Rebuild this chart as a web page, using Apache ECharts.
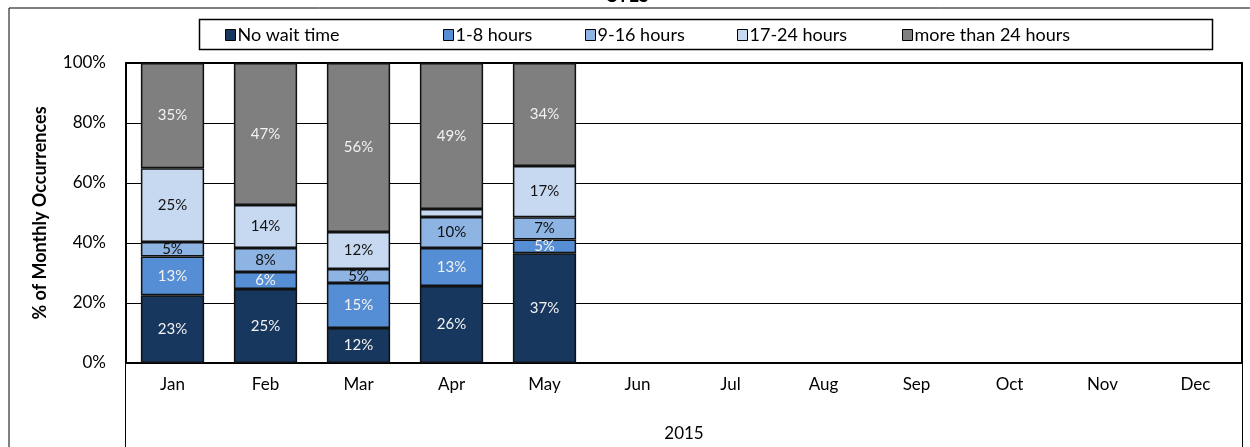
<!DOCTYPE html>
<html>
<head>
<meta charset="utf-8">
<script src="https://cdn.jsdelivr.net/npm/echarts@6/dist/echarts.min.js"></script>
<style>
  html, body { margin: 0; padding: 0; background: #fff; }
  #chart { width: 1250px; height: 447px; }
</style>
</head>
<body>
<div id="chart"></div>
<script>
// months on the category axis
const months = ['Jan', 'Feb', 'Mar', 'Apr', 'May', 'Jun', 'Jul', 'Aug', 'Sep', 'Oct', 'Nov', 'Dec'];
const yearLabel = ['2015'];
// % of monthly occurrences per wait-time bucket (Jun-Dec empty)
const noWait   = [22.6, 24.7, 11.7, 25.7, 36.6, null, null, null, null, null, null, null];
const h1to8    = [12.9, 5.6, 15.0, 12.6, 4.6, null, null, null, null, null, null, null];
const h9to16   = [4.8, 8.0, 4.6, 10.4, 7.4, null, null, null, null, null, null, null];
const h17to24  = [24.6, 14.4, 12.4, 2.6, 17.1, null, null, null, null, null, null, null];
const over24   = [35.1, 47.3, 56.3, 48.7, 34.3, null, null, null, null, null, null, null];
const yTicks = [0, 20, 40, 60, 80, 100];

const FONT = 'Lato';
const chart = echarts.init(document.getElementById('chart'));

function mkSeries(name, data, color, labelColor) {
    return {
        name: name,
        type: 'bar',
        stack: 'total',
        data: data,
        barWidth: '68%',
        itemStyle: { color: color, borderColor: '#111', borderWidth: 1.5 },
        label: {
            show: true,
            position: 'inside',
            fontFamily: FONT,
            fontSize: 15,
            color: labelColor,
            formatter: p => (p.value == null || p.value < 4) ? '' : Math.round(p.value) + '%'
        }
    };
}

// one legend per item so each sits where the reference puts it
const legendItems = [
    ['No wait time', 225],
    ['1-8 hours', 443],
    ['9-16 hours', 585],
    ['17-24 hours', 737],
    ['more than 24 hours', 902]
];

chart.setOption({
    animation: false,
    title: {
        text: 'CYES',
        left: 622,
        top: -18,
        textAlign: 'center',
        textStyle: { fontFamily: FONT, fontSize: 18, fontWeight: 'bold', color: '#000' }
    },
    legend: legendItems.map(it => ({
        data: [it[0]],
        left: it[1],
        top: 26,
        itemWidth: 10,
        itemHeight: 11,
        icon: 'rect',
        itemGap: 4,
        padding: 0,
        itemStyle: { borderColor: '#000', borderWidth: 1 },
        textStyle: { fontFamily: FONT, fontSize: 18, color: '#000', padding: [0, 0, 0, -3] }
    })),
    graphic: [
        { type: 'rect', shape: { x: 9, y: 8, width: 1260, height: 460 }, style: { fill: null, stroke: '#000', lineWidth: 1 }, silent: true, z: -1 },
        { type: 'rect', shape: { x: 199.5, y: 19.5, width: 1013, height: 30 }, style: { fill: null, stroke: '#000', lineWidth: 1.5 }, silent: true },
        { type: 'line', shape: { x1: 125.5, y1: 363, x2: 125.5, y2: 447 }, style: { stroke: '#000', lineWidth: 1 }, silent: true },
        { type: 'line', shape: { x1: 1242.5, y1: 363, x2: 1242.5, y2: 447 }, style: { stroke: '#000', lineWidth: 1 }, silent: true }
    ],
    grid: {
        left: 126, right: 8, top: 63, bottom: 84,
        show: true, borderColor: '#000', borderWidth: 2, backgroundColor: '#fff'
    },
    xAxis: [{
        type: 'category',
        data: months,
        axisLine: { show: true, lineStyle: { color: '#000', width: 2 } },
        axisTick: { show: false },
        axisLabel: { fontFamily: FONT, fontSize: 17, color: '#000', margin: 13 }
    }, {
        type: 'category',
        data: yearLabel,
        position: 'bottom',
        offset: 60,
        axisLine: { show: false },
        axisTick: { show: false },
        axisLabel: { fontFamily: FONT, fontSize: 17, color: '#000', margin: 2 }
    }],
    yAxis: {
        type: 'value',
        min: yTicks[0],
        max: yTicks[yTicks.length - 1],
        interval: 20,
        name: '% of Monthly Occurrences',
        nameLocation: 'middle',
        nameGap: 77,
        nameTextStyle: { fontFamily: FONT, fontSize: 18, fontWeight: 'bold', color: '#000' },
        axisLine: { show: true, lineStyle: { color: '#000', width: 2 } },
        axisTick: { show: false },
        axisLabel: { fontFamily: FONT, fontSize: 17, color: '#000', margin: 20, formatter: '{value}%' },
        splitLine: { show: true, lineStyle: { color: '#000', width: 1 } }
    },
    series: [
        mkSeries('No wait time', noWait, '#17375E', '#F2F2F2'),
        mkSeries('1-8 hours', h1to8, '#558ED5', '#F2F2F2'),
        mkSeries('9-16 hours', h9to16, '#8EB4E3', '#111'),
        mkSeries('17-24 hours', h17to24, '#C6D9F1', '#111'),
        mkSeries('more than 24 hours', over24, '#7F7F7F', '#F2F2F2')
    ]
});
</script>
</body>
</html>
